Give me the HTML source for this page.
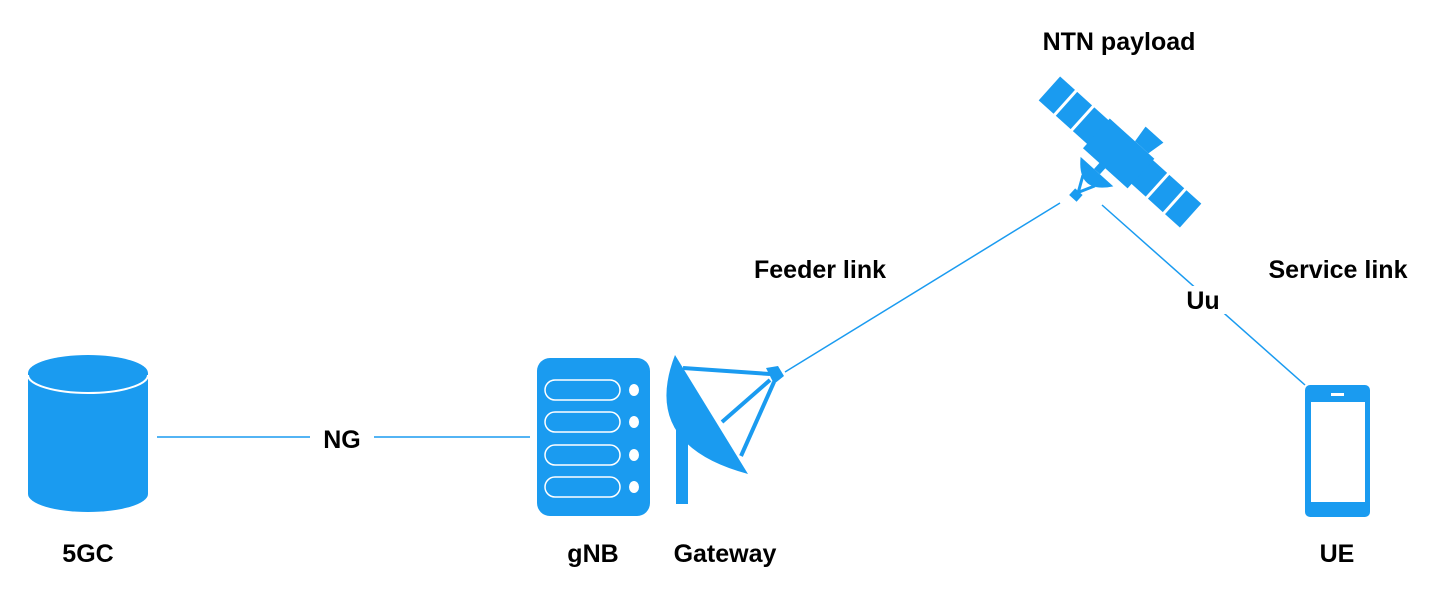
<!DOCTYPE html>
<html><head><meta charset="utf-8"><style>
html,body{margin:0;padding:0;background:#fff;}
svg{display:block;}
text{font-family:"Liberation Sans",sans-serif;font-weight:bold;font-size:25px;fill:#000;}
</style></head><body>
<svg width="1437" height="603" viewBox="0 0 1437 603" xmlns="http://www.w3.org/2000/svg">
<g stroke="#1a9bf0" stroke-width="1.5">
<line x1="157" y1="437" x2="530" y2="437"/>
<line x1="785" y1="372" x2="1060" y2="203"/>
<line x1="1102" y1="205" x2="1305" y2="385"/>
</g>
<rect x="310" y="424" width="64" height="28" fill="#fff"/>
<rect x="1178" y="286" width="50" height="28" fill="#fff"/>
<text x="342" y="448" text-anchor="middle">NG</text>
<text x="1203" y="309" text-anchor="middle">Uu</text>
<!-- 5GC -->
<g fill="#1a9bf0">
<path d="M28,373 L28,494 A60,18 0 0 0 148,494 L148,373 Z"/>
<ellipse cx="88" cy="373" rx="60" ry="18"/>
</g>
<path d="M28,375 A60,18 0 0 0 148,375" fill="none" stroke="#fff" stroke-width="2"/>
<!-- gNB -->
<rect x="537" y="358" width="113" height="158" rx="13" fill="#1a9bf0"/>
<g fill="none" stroke="#fff" stroke-width="1.5">
<rect x="545" y="380" width="75" height="20" rx="10"/>
<rect x="545" y="412" width="75" height="20" rx="10"/>
<rect x="545" y="445" width="75" height="20" rx="10"/>
<rect x="545" y="477" width="75" height="20" rx="10"/>
</g>
<g fill="#fff">
<ellipse cx="634" cy="390" rx="5" ry="6"/>
<ellipse cx="634" cy="422" rx="5" ry="6"/>
<ellipse cx="634" cy="455" rx="5" ry="6"/>
<ellipse cx="634" cy="487" rx="5" ry="6"/>
</g>
<!-- Gateway dish -->
<g fill="#1a9bf0">
<rect x="676" y="420" width="12" height="84"/>
<path d="M675,355 Q640,445 748,474 Z"/>
<path d="M766,368 L778,366 L784,376 L774,384 Z"/>
</g>
<g stroke="#1a9bf0" stroke-width="4" fill="none">
<line x1="683" y1="368" x2="770" y2="374"/>
<line x1="722" y1="422" x2="770" y2="380"/>
<line x1="741" y1="456" x2="774" y2="382"/>
</g>
<!-- Satellite -->
<g transform="translate(1120,152) rotate(42)" fill="#1a9bf0">
<rect x="-95" y="-16" width="20" height="32"/>
<rect x="-72" y="-16" width="20" height="32"/>
<rect x="-49" y="-16" width="20" height="32"/>
<rect x="29" y="-16" width="20" height="32"/>
<rect x="52" y="-16" width="20" height="32"/>
<rect x="75" y="-16" width="20" height="32"/>
<rect x="-30" y="-18" width="60" height="40"/>
<path d="M4,-18 L2,-36 L26,-36 L22,-18 Z"/>
<rect x="-8" y="20" width="8" height="10"/>
<path d="M-26,30 Q-4,60 18,30 Z"/>
<path d="M-12,42 L-4,58 L4,42" fill="none" stroke="#1a9bf0" stroke-width="3"/>
<rect x="-9" y="57" width="10" height="9"/>
</g>
<!-- UE phone -->
<rect x="1305" y="385" width="65" height="132" rx="5" fill="#1a9bf0"/>
<rect x="1311" y="402" width="54" height="100" fill="#fff"/>
<rect x="1331" y="393" width="13" height="3" fill="#fff"/>
<!-- labels -->
<text x="1119" y="50" text-anchor="middle">NTN payload</text>
<text x="820" y="278" text-anchor="middle">Feeder link</text>
<text x="1338" y="278" text-anchor="middle">Service link</text>
<text x="88" y="562" text-anchor="middle">5GC</text>
<text x="593" y="562" text-anchor="middle">gNB</text>
<text x="725" y="562" text-anchor="middle">Gateway</text>
<text x="1337" y="562" text-anchor="middle">UE</text>
</svg>
</body></html>
